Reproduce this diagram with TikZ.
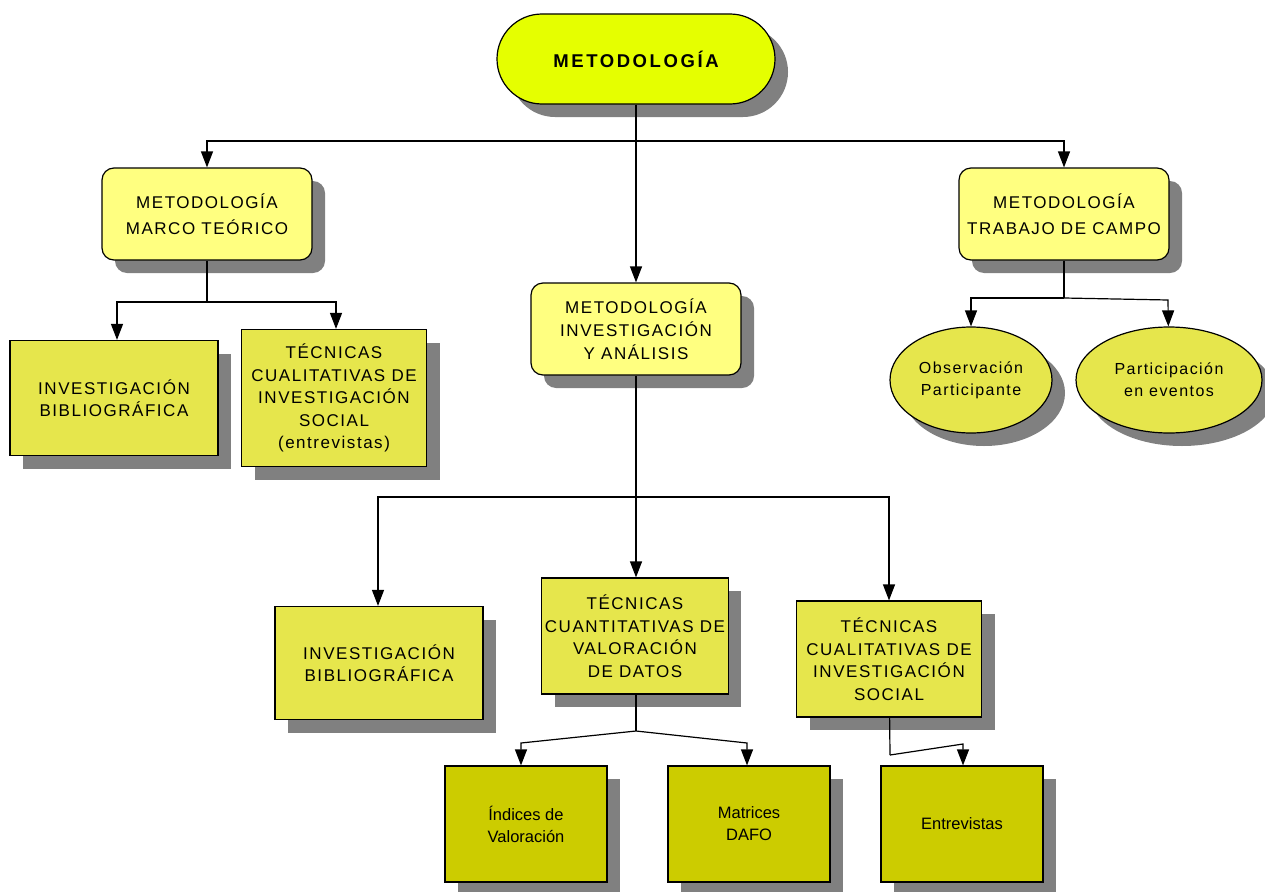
\documentclass[tikz,border=0pt]{standalone}
\usepackage{fontspec}
\setmainfont{Liberation Sans}
\newfontfamily\spacedfont[LetterSpace=9]{Liberation Sans}
\newfontfamily\widefont[LetterSpace=14]{Liberation Sans}
\usepackage{tikz}
\usetikzlibrary{arrows.meta,positioning,shadows,shapes.geometric}

\definecolor{limeyellow}{HTML}{E5FF00}
\definecolor{paleyellow}{HTML}{FFFF80}
\definecolor{midyellow}{HTML}{E6E64C}
\definecolor{darkyellow}{HTML}{CCCC00}
\definecolor{shadowgray}{HTML}{808080}

\tikzset{
  boxshadow/.style={drop shadow={shadow xshift=13pt,shadow yshift=-13pt,fill=shadowgray,opacity=1}},
  titlebox/.style={draw,line width=1.2pt,fill=limeyellow,rounded corners=45pt,minimum width=278pt,minimum height=90pt,boxshadow,font=\widefont\bfseries\fontsize{18.5}{22}\selectfont},
  mainbox/.style={draw,line width=1.2pt,fill=paleyellow,rounded corners=12pt,minimum width=210pt,minimum height=92pt,align=center,boxshadow,font=\spacedfont\fontsize{17}{23}\selectfont},
  subbox/.style={draw,line width=1.2pt,fill=midyellow,align=center,boxshadow,font=\spacedfont\fontsize{17}{22.5}\selectfont},
  leafbox/.style={draw,line width=1.2pt,fill=darkyellow,minimum width=162pt,minimum height=116pt,align=center,boxshadow,font=\fontsize{16.5}{22}\selectfont},
  oval/.style={draw,line width=1.2pt,ellipse,fill=midyellow,align=center,boxshadow,font=\spacedfont\fontsize{16}{22}\selectfont}
}

\begin{document}
\begin{tikzpicture}[x=1pt,y=-1pt,line width=1.2pt,>={Triangle[width=12pt,length=16pt]}]
  \useasboundingbox (0,0) rectangle (1265,891);
  % levels 1 and 2
  \node[titlebox] (top) at (636,59) {METODOLOGÍA};
  \node[mainbox,font=\spacedfont\fontsize{17}{26}\selectfont] (teo) at (207,214) {METODOLOGÍA\\MARCO TEÓRICO};
  \node[mainbox] (inv) at (636,329) {METODOLOGÍA\\INVESTIGACIÓN\\Y ANÁLISIS};
  \node[mainbox,font=\spacedfont\fontsize{17}{26}\selectfont] (cam) at (1064,214) {METODOLOGÍA\\TRABAJO DE CAMPO};
  % marco teorico
  \node[subbox,minimum width=208pt,minimum height=115pt] (bib1) at (114,398) {INVESTIGACIÓN\\BIBLIOGRÁFICA};
  \node[subbox,minimum width=185pt,minimum height=137pt] (cua1) at (334,398) {TÉCNICAS\\CUALITATIVAS DE\\INVESTIGACIÓN\\SOCIAL\\(entrevistas)};
  % trabajo de campo
  \node[oval,minimum width=162pt,minimum height=106pt] (obs) at (971,380) {Observación\\Participante};
  \node[oval,minimum width=186pt,minimum height=106pt] (par) at (1169,380) {Participación\\en eventos};
  % investigacion y analisis
  \node[subbox,minimum width=208pt,minimum height=113pt] (bib2) at (379,663) {INVESTIGACIÓN\\BIBLIOGRÁFICA};
  \node[subbox,minimum width=186pt,minimum height=116pt] (cua2) at (635,636) {TÉCNICAS\\CUANTITATIVAS DE\\VALORACIÓN\\DE DATOS};
  \node[subbox,minimum width=185pt,minimum height=116pt] (soc) at (889,659) {TÉCNICAS\\CUALITATIVAS  DE\\INVESTIGACIÓN\\SOCIAL};
  \node[leafbox] (ind) at (526,824) {Índices de\\Valoración};
  \node[leafbox] (mat) at (749,824) {Matrices\\DAFO};
  \node[leafbox] (ent) at (962,824) {Entrevistas};

  % junctions
  \coordinate (j1) at (636,141);
  \coordinate (j2) at (207,302);
  \coordinate (j3) at (1064,298);
  \coordinate (j4) at (636,497);
  \coordinate (j5) at (636,731);
  \coordinate (j6) at (890,755);
  \coordinate (k1) at (521,743);
  \coordinate (k2) at (747,743);
  \coordinate (k3) at (963,744);

  \draw (top) -- (j1);
  \draw[->] (j1) -| (teo);
  \draw[->] (j1) -| (cam);
  \draw[->] (top) -- (inv);

  \draw (teo) -- (j2);
  \draw[->] (j2) -| (bib1.north -| 117,0);
  \draw[->] (j2) -| (cua1.north -| 336,0);

  \draw (cam) -- (j3);
  \draw[->] (j3) -| (obs);
  \draw[->] (j3) -- (1168,300) -- (par);

  \draw (inv) -- (j4);
  \draw[->] (j4) -| (bib2.north -| 378,0);
  \draw[->] (j4) -- (cua2.north -| j4);
  \draw[->] (j4) -| (soc);

  \draw (cua2.south -| j5) -- (j5);
  \draw[->] (j5) -- (k1) -- (ind.north -| k1);
  \draw[->] (j5) -- (k2) -- (mat.north -| k2);

  \draw (soc) -- (j6);
  \draw[->] (j6) -- (k3) -- (ent.north -| k3);
\end{tikzpicture}
\end{document}
